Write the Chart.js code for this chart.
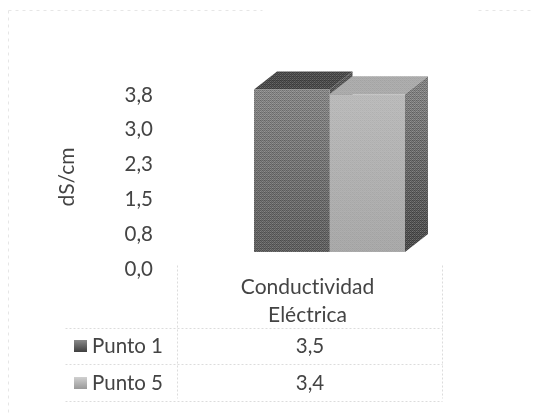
<!DOCTYPE html>
<html>
<head>
<meta charset="utf-8">
<style>html,body{margin:0;padding:0;background:#fff}canvas{display:block}</style>
<script src="https://cdn.jsdelivr.net/npm/chart.js@4"></script>
</head>
<body>
<canvas id="c" width="543" height="413"></canvas>
<script>
const categories = [['Conductividad', 'Eléctrica']];
const seriesNames = ['Punto 1', 'Punto 5'];
const punto1 = [3.5];
const punto5 = [3.4];
const yTicks = [0, 0.75, 1.5, 2.25, 3, 3.75];
const axisTitle = 'dS/cm';
const tableValues = ['3,5', '3,4'];

const FONT = 'Lato';
const TEXT = '#444444';
const DEPTH_X = 23, DEPTH_Y = 18;
const BAYER = [0,8,2,10,12,4,14,6,3,11,1,9,15,7,13,5];

function grain(ctx, strength) {
  const p = document.createElement('canvas');
  p.width = p.height = 4;
  const g = p.getContext('2d');
  BAYER.forEach((v, i) => {
    const a = (v / 15 - 0.5) * strength;
    g.fillStyle = a < 0 ? 'rgba(0,0,0,' + (-a) + ')' : 'rgba(255,255,255,' + a + ')';
    g.fillRect(i % 4, Math.floor(i / 4), 1, 1);
  });
  return ctx.createPattern(p, 'repeat');
}
function vGrad(ctx, y0, y1, stops) {
  const g = ctx.createLinearGradient(0, y0, 0, y1);
  stops.forEach((c, i) => g.addColorStop(i / (stops.length - 1), c));
  return g;
}
function poly(ctx, pts, fill, pattern) {
  ctx.beginPath();
  pts.forEach((p, i) => i ? ctx.lineTo(p[0], p[1]) : ctx.moveTo(p[0], p[1]));
  ctx.closePath();
  ctx.fillStyle = fill; ctx.fill();
  if (pattern) { ctx.fillStyle = pattern; ctx.fill(); }
}

const depthPlugin = {
  id: 'depth',
  beforeDatasetsDraw(chart) {
    const ctx = chart.ctx;
    const tops = ['#474747', '#acacac'];
    const sides = [['#555', '#333'], ['#808080', '#444444']];
    ctx.save();
    chart.data.datasets.forEach((ds, i) => {
      const b = chart.getDatasetMeta(i).data[0];
      const l = b.x - b.width / 2, r = b.x + b.width / 2;
      poly(ctx, [[l, b.y], [r, b.y], [r + DEPTH_X, b.y - DEPTH_Y], [l + DEPTH_X, b.y - DEPTH_Y]], tops[i], grain(ctx, i ? 0.12 : 0.4));
      poly(ctx, [[r, b.y], [r + DEPTH_X, b.y - DEPTH_Y], [r + DEPTH_X, b.base - DEPTH_Y], [r, b.base]],
        vGrad(ctx, b.y, b.base, sides[i]), grain(ctx, 0.45));
    });
    ctx.restore();
  },
  afterDatasetsDraw(chart) {
    const ctx = chart.ctx;
    const strengths = [0.4, 0.1];
    ctx.save();
    chart.data.datasets.forEach((ds, i) => {
      const b = chart.getDatasetMeta(i).data[0];
      ctx.fillStyle = grain(ctx, strengths[i]);
      ctx.fillRect(b.x - b.width / 2, b.y, b.width, b.base - b.y);
    });
    ctx.restore();
  }
};

const tablePlugin = {
  id: 'table',
  beforeDraw(chart) {
    const ctx = chart.ctx;
    ctx.textRendering = 'optimizeSpeed';
    ctx.save();
    ctx.strokeStyle = '#e6e6e6';
    ctx.lineWidth = 1;
    ctx.setLineDash([3, 4]);
    [[8, 10, 262, 10], [478, 10, 530, 10], [8, 10, 8, 412]].forEach(l => {
      ctx.beginPath(); ctx.moveTo(l[0] + .5, l[1] + .5); ctx.lineTo(l[2] + .5, l[3] + .5); ctx.stroke();
    });
    ctx.strokeStyle = '#dcdcdc';
    ctx.setLineDash([2, 2]);
    [[65, 328, 442, 328], [65, 364, 442, 364], [65, 401, 442, 401], [177, 265, 177, 398], [442, 265, 442, 398]].forEach(l => {
      ctx.beginPath(); ctx.moveTo(l[0] + .5, l[1] + .5); ctx.lineTo(l[2] + .5, l[3] + .5); ctx.stroke();
    });
    ctx.restore();
  },
  afterDraw(chart) {
    const ctx = chart.ctx;
    const rows = [346, 383];
    const keyColors = [['#8a8a8a', '#3f3f3f'], ['#d0d0d0', '#999999']];
    ctx.save();
    ctx.textBaseline = 'middle';
    ctx.font = '20.5px ' + FONT;
    seriesNames.forEach((name, i) => {
      const y = rows[i];
      ctx.fillStyle = vGrad(ctx, y - 6, y + 6, keyColors[i]);
      ctx.fillRect(74, y - 6, 13, 12);
      ctx.fillStyle = TEXT;
      ctx.textAlign = 'left';
      ctx.fillText(name, 92, y);
      ctx.textAlign = 'center';
      ctx.fillText(tableValues[i], 310, y);
    });
    ctx.restore();
  }
};

new Chart(document.getElementById('c'), {
  type: 'bar',
  data: {
    labels: categories,
    datasets: [
      { label: seriesNames[0], data: punto1, yAxisID: 'y',
        backgroundColor: c => vGrad(c.chart.ctx, 90, 252, ['#868686', '#5c5c5c']),
        barPercentage: 1, categoryPercentage: 0.495 },
      { label: seriesNames[1], data: punto5, yAxisID: 'y',
        backgroundColor: c => vGrad(c.chart.ctx, 93, 252, ['#bcbcbc', '#a9a9a9']),
        barPercentage: 1, categoryPercentage: 0.495 }
    ]
  },
  options: {
    responsive: false,
    animation: false,
    layout: { padding: { top: 85, right: 61, left: 0, bottom: 0 } },
    plugins: { legend: { display: false }, tooltip: { enabled: false } },
    scales: {
      x: {
        grid: { display: false }, border: { display: false },
        ticks: { color: TEXT, font: { family: FONT, size: 21, lineHeight: 1.33 }, maxRotation: 0, labelOffset: -22, padding: -4 },
        afterFit(s) { s.height = 144; }
      },
      y: { display: false, min: -0.366, max: 3.599 },
      y1: {
        position: 'left', min: 0, max: 3.966,
        grid: { display: false }, border: { display: false },
        title: { display: true, text: axisTitle, color: TEXT, font: { family: FONT, size: 21 }, padding: { top: 55, bottom: 0 } },
        ticks: { color: TEXT, font: { family: FONT, size: 20.5 }, padding: 16,
          callback: v => v.toFixed(1).replace('.', ',') },
        afterBuildTicks(s) { s.ticks = yTicks.map(v => ({ value: v })); },
        afterFit(s) { s.width = 177; }
      }
    }
  },
  plugins: [depthPlugin, tablePlugin]
});
</script>
</body>
</html>
